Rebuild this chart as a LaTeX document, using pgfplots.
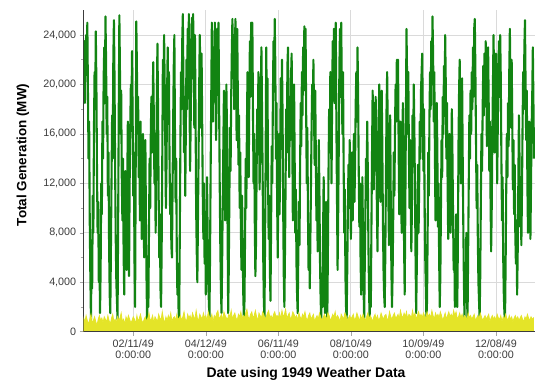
\documentclass[border=0pt]{standalone}
\usepackage{pgfplots}
\usepackage{pgfplotstable}
\pgfplotsset{compat=1.18}
\usepackage{fontspec}
\setmainfont{Liberation Sans}
\definecolor{gen}{RGB}{18,132,18}
\definecolor{yel}{RGB}{228,228,40}
\definecolor{gridc}{RGB}{218,218,218}
\definecolor{tickc}{RGB}{60,60,60}
% Total generation, 12-hour steps from 1 Jan 1949
\pgfplotstableread[header=false,row sep=\\]{
20000\\23500\\18500\\22000\\24000\\21000\\25000\\19500\\14000\\17000\\9000\\4500\\1000\\6000\\3500\\11000\\8000\\16500\\21000\\18000\\
24300\\20000\\13000\\8000\\10500\\4000\\6500\\1500\\5000\\12000\\9500\\17000\\14000\\20500\\23000\\18500\\25500\\22000\\16000\\19000\\
11000\\14500\\7000\\3000\\1500\\6500\\12000\\17500\\14000\\22000\\25200\\20500\\13000\\7500\\4000\\2500\\1000\\9000\\18000\\25600\\
21000\\16000\\19500\\12500\\9000\\14000\\6500\\3000\\8500\\13000\\10000\\5000\\11500\\17000\\8000\\4500\\12000\\16500\\20000\\18000\\
22700\\17000\\11000\\14500\\6000\\2000\\13000\\25100\\21500\\16000\\19000\\12500\\15500\\9000\\17000\\13500\\7500\\11000\\16000\\10500\\
6000\\12500\\15500\\9000\\4000\\500\\5500\\2000\\8000\\14000\\10000\\16000\\19000\\14500\\18000\\21800\\17500\\12000\\15000\\8000\\
13000\\19000\\23300\\18000\\11000\\6000\\9500\\3500\\2000\\7000\\14000\\22000\\18500\\24000\\20000\\15000\\10000\\13500\\19500\\23000\\
17500\\21000\\14000\\9500\\12000\\7000\\6000\\11500\\17000\\21500\\24000\\16000\\10500\\14000\\6500\\3000\\5500\\1500\\1000\\8000\\
15500\\21000\\18000\\23500\\25700\\20000\\14500\\19000\\11000\\16500\\22000\\18000\\24500\\21000\\25700\\19500\\13000\\17000\\22500\\25400\\
20500\\25700\\22000\\16500\\24000\\18000\\10000\\6500\\4000\\9000\\14000\\19500\\24000\\21000\\16500\\22500\\17000\\11000\\7500\\12000\\
5500\\9000\\3000\\7500\\12500\\8000\\4000\\2500\\1000\\6000\\13000\\19000\\25000\\21500\\17000\\23000\\19500\\25000\\22000\\15500\\
19000\\24500\\20000\\25000\\18500\\12000\\7000\\3500\\1500\\5500\\10500\\15000\\19500\\14000\\9000\\13000\\20000\\16500\\8500\\1500\\
5000\\11000\\16500\\13000\\19000\\22500\\25300\\20500\\24000\\18000\\22000\\25300\\21000\\15500\\24500\\19000\\13500\\17500\\10000\\14500\\
8500\\5000\\11000\\6500\\3000\\1000\\2500\\8000\\14000\\10000\\16500\\21000\\17000\\12500\\19500\\23500\\19000\\25000\\21500\\25000\\
18000\\12000\\16000\\9000\\4500\\7000\\12500\\18000\\15000\\21000\\17000\\11500\\15000\\19500\\23000\\18000\\13000\\6000\\2500\\1000\\
7000\\14000\\23000\\17500\\20500\\12000\\7500\\11000\\5000\\2500\\8500\\15000\\12000\\19000\\23500\\20000\\25300\\21500\\14000\\18500\\
10500\\6000\\12000\\16000\\9500\\13500\\20500\\16000\\22000\\17500\\10000\\4500\\2000\\6500\\12000\\18000\\14500\\21500\\23000\\17000\\
12500\\19000\\15500\\20500\\22500\\16500\\9000\\12500\\20000\\14000\\8000\\11500\\5500\\3000\\1500\\6000\\10500\\7000\\13500\\18500\\
15000\\21000\\17500\\23000\\19500\\24700\\22000\\24500\\18000\\12000\\16500\\9500\\5000\\8500\\3500\\7500\\12000\\16500\\20000\\17500\\
22000\\18000\\13500\\19500\\14500\\9000\\12500\\6500\\10000\\15500\\11000\\5500\\2500\\1000\\4500\\2000\\8000\\12500\\6000\\1500\\
5000\\10500\\3500\\1000\\6500\\13000\\18000\\14500\\21000\\17000\\12000\\19000\\23500\\20000\\24500\\18500\\22000\\25000\\17000\\11000\\
5000\\9500\\15000\\21500\\24500\\19000\\25000\\20000\\16000\\21000\\13500\\8000\\11500\\4500\\2000\\1000\\5000\\9500\\13500\\10000\\
15500\\12000\\7500\\11000\\14500\\9000\\13000\\16000\\10500\\14000\\18500\\21000\\17000\\23000\\19000\\13000\\8500\\12000\\6000\\3000\\
7500\\12500\\8000\\3500\\1000\\5500\\9500\\14000\\11000\\17000\\13000\\7000\\3500\\1000\\4000\\2000\\8500\\14500\\19500\\16000\\
11500\\18500\\14000\\19000\\15500\\10000\\6500\\12000\\17500\\20000\\16000\\10500\\14500\\19500\\15000\\9000\\5000\\3000\\2000\\6500\\
12500\\18000\\21000\\16500\\11000\\7000\\13500\\17500\\10500\\5000\\2000\\4500\\9000\\14500\\11000\\16500\\20000\\17000\\22000\\18500\\
22000\\15000\\9500\\13000\\17000\\12000\\8000\\14000\\18500\\15500\\7000\\3000\\9500\\17000\\24500\\20500\\16000\\21000\\14500\\10000\\
15500\\11000\\6500\\10000\\17500\\14000\\20000\\16500\\11500\\6000\\1500\\5000\\9000\\13500\\8000\\12000\\17000\\14000\\19500\\21000\\
22500\\17500\\13000\\18000\\10500\\6000\\3500\\1000\\2500\\8000\\14500\\11000\\17500\\21000\\18000\\23500\\20000\\25500\\22500\\17000\\
21000\\14500\\9000\\13000\\18500\\15000\\8500\\12000\\6000\\2000\\4500\\10000\\15500\\12500\\19000\\16000\\21500\\18000\\24000\\20000\\
14000\\18500\\12000\\7500\\11000\\16000\\13000\\8000\\12500\\18000\\14500\\9500\\5000\\7500\\2000\\4000\\9500\\3500\\2000\\7000\\
15000\\19500\\22000\\16500\\12000\\17000\\20500\\14000\\8500\\4000\\1000\\5500\\2500\\8000\\3000\\1000\\6500\\12000\\17500\\14000\\
19500\\16000\\21000\\18000\\23000\\19000\\24500\\25300\\21000\\15500\\10000\\13500\\7500\\4000\\2500\\1000\\4500\\10500\\16000\\13000\\
18000\\21500\\17500\\22500\\19000\\23500\\20500\\15000\\19000\\23000\\18500\\13000\\17000\\11000\\6500\\10000\\15500\\20000\\24000\\19500\\
14500\\18000\\22500\\17500\\12000\\16500\\21000\\23500\\19000\\24000\\20500\\14000\\9000\\12500\\6000\\3000\\1500\\1000\\5500\\11500\\
16000\\12500\\18500\\15000\\21000\\24500\\20000\\16500\\22000\\17000\\11500\\15500\\9500\\13500\\8000\\5500\\9000\\3000\\6500\\12000\\
17500\\14000\\8500\\12500\\7000\\11000\\16500\\21000\\18000\\23000\\25200\\20000\\15500\\19500\\12000\\8000\\13500\\17000\\10500\\7500\\
12000\\16500\\19000\\23000\\18500\\14000\\
}\gentable
% Yellow series, daily steps
\pgfplotstableread[header=false,row sep=\\]{
1100\\800\\1300\\900\\600\\1000\\1400\\700\\900\\1200\\800\\500\\1000\\1300\\900\\1100\\700\\1200\\1000\\800\\
1300\\900\\600\\1100\\1400\\800\\1000\\700\\1200\\900\\1100\\1500\\800\\1000\\600\\1200\\900\\1300\\1000\\700\\
900\\1200\\1000\\600\\1300\\800\\1100\\1400\\900\\700\\1000\\1200\\800\\1100\\1500\\900\\1000\\1300\\700\\1200\\
1000\\800\\1400\\1100\\900\\1600\\1000\\700\\1200\\900\\1300\\1000\\1500\\800\\1100\\1200\\900\\1400\\1000\\1100\\
1300\\900\\1200\\1600\\1000\\800\\1400\\1100\\1300\\900\\1500\\1200\\1000\\1700\\1100\\900\\1400\\1200\\1000\\1500\\
1100\\1300\\900\\1600\\1200\\1000\\1400\\800\\1300\\1100\\1500\\1700\\1000\\1200\\1400\\900\\1600\\1300\\1100\\1000\\
1400\\1200\\1700\\1000\\1300\\1500\\1100\\900\\1400\\1200\\1600\\1000\\1300\\1100\\1500\\1800\\1200\\1000\\1400\\1600\\
1100\\1300\\1700\\1200\\900\\1500\\1300\\1100\\1600\\1400\\1000\\1200\\1500\\1700\\1100\\1300\\1000\\1400\\1600\\1200\\
1300\\1100\\1500\\1000\\1700\\1200\\1400\\1800\\1100\\1300\\1500\\1000\\1200\\1600\\1400\\1100\\1300\\900\\1500\\1200\\
1000\\1400\\1200\\1600\\1100\\900\\1300\\1500\\1000\\1200\\1400\\800\\1100\\1300\\1000\\1500\\1200\\900\\1100\\1400\\
1200\\1000\\1500\\1300\\900\\1100\\1400\\1200\\1600\\1000\\1300\\1100\\800\\1400\\1200\\1000\\1500\\1300\\900\\1100\\
1300\\1000\\1200\\1400\\900\\1100\\1500\\1200\\800\\1300\\1000\\1400\\1100\\900\\1200\\1500\\1000\\1300\\1100\\800\\
1200\\1400\\1000\\1300\\900\\1100\\1500\\1200\\1000\\1300\\1400\\900\\1100\\1600\\1200\\1000\\1300\\1500\\1100\\1200\\
1400\\1000\\1700\\1300\\1100\\1500\\1200\\1600\\1000\\1400\\1300\\1100\\1700\\1200\\1500\\1000\\1300\\1600\\1200\\1400\\
1100\\1500\\1300\\1000\\1600\\1200\\1400\\1100\\1700\\1300\\1000\\1500\\1200\\1400\\1100\\1600\\1300\\900\\1200\\1500\\
1000\\1300\\1600\\1200\\1400\\1100\\1700\\1300\\1600\\1000\\1200\\1500\\1100\\1400\\1000\\1300\\1200\\900\\1500\\1100\\
1300\\1000\\1200\\1400\\900\\1100\\1300\\1000\\1500\\1200\\900\\1100\\1300\\1000\\1200\\1400\\800\\1100\\1300\\1000\\
1200\\900\\1400\\1100\\1000\\1300\\800\\1200\\1000\\1400\\1100\\900\\1300\\1000\\1200\\800\\1100\\1300\\1000\\1200\\
900\\1100\\1300\\1000\\800\\1200\\1000\\1400\\1100\\900\\1200\\1000\\1100\\
}\yeltable
\begin{document}
\begin{tikzpicture}
\useasboundingbox (0,0) rectangle (535bp,383bp);
\begin{axis}[
  at={(83.7bp,51.3bp)}, anchor=south west,
  scale only axis, width=451.3bp, height=321.4bp,
  xmin=0, xmax=373.3, ymin=0, ymax=26000,
  axis x line*=bottom, axis y line*=left,
  axis line style={-, draw=tickc, line width=1.2bp},
  ytick={0,4000,8000,12000,16000,20000,24000},
  minor ytick={2000,6000,10000,14000,18000,22000},
  scaled y ticks=false,
  xtick={41,101,161,221,281,341},
  xticklabels={{02/11/49\\0:00:00},{04/12/49\\0:00:00},{06/11/49\\0:00:00},{08/10/49\\0:00:00},{10/09/49\\0:00:00},{12/08/49\\0:00:00}},
  xticklabel style={align=center, font=\fontsize{10.8}{12}\selectfont, text=tickc},
  yticklabel style={font=\fontsize{10.8}{12}\selectfont, text=tickc, /pgf/number format/fixed, /pgf/number format/1000 sep={,}},
  /pgf/number format/assume math mode=true,
  tick align=outside, major tick length=4bp, minor tick length=2.5bp,
  tick style={draw=gray!70, line width=0.6bp},
  xmajorgrids, ymajorgrids,
  major grid style={draw=gridc, line width=0.8bp},
  xlabel={Date using 1949 Weather Data},
  ylabel={Total Generation (MW)},
  every axis x label/.style={at={(axis description cs:0.4926,-0.1316)}, anchor=center, font=\fontsize{14}{16}\selectfont\bfseries},
  every axis y label/.style={at={(axis description cs:-0.1345,0.55)}, anchor=center, rotate=90, font=\fontsize{13.5}{15}\selectfont\bfseries},
]
\addplot[gen, line width=2.1bp, line join=round] table[x expr=\coordindex*0.5, y index=0] {\gentable};
\addplot[draw=yel, fill=yel, line width=0.8bp] table[x expr=\coordindex, y index=0] {\yeltable} \closedcycle;
\draw[tickc, line width=1.2bp] (rel axis cs:0,0) -- (rel axis cs:1,0);
\draw[tickc, line width=1.2bp] (rel axis cs:0,0) -- (rel axis cs:0,1);
\end{axis}
\end{tikzpicture}
\end{document}
